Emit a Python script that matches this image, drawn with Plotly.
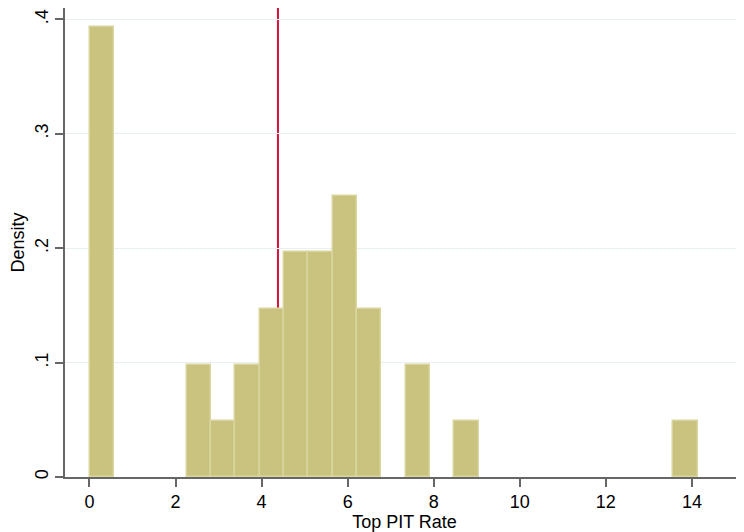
import plotly.graph_objects as go

bin_width = 0.5652
bin_centers = [0.283, 2.543, 3.108, 3.674, 4.239, 4.804, 5.369, 5.935, 6.500, 7.630, 8.761, 13.848]
density = [0.393, 0.098, 0.049, 0.098, 0.147, 0.197, 0.197, 0.246, 0.147, 0.098, 0.049, 0.049]
ref_line_x = 4.38

x_ticks = [0, 2, 4, 6, 8, 10, 12, 14]
y_ticks = [0, 0.1, 0.2, 0.3, 0.4]
y_tick_labels = ["0", ".1", ".2", ".3", ".4"]

font_family = "Liberation Sans, Arial, sans-serif"

fig = go.Figure()
fig.add_trace(go.Bar(
    x=bin_centers, y=density, width=[bin_width] * len(bin_centers),
    marker=dict(color="#c9c37f", line=dict(color="#d9d59e", width=1.5)),
    showlegend=False, hoverinfo="x+y",
))

fig.add_shape(type="line", xref="x", yref="paper", x0=ref_line_x, x1=ref_line_x, y0=0, y1=1,
              line=dict(color="#d2133c", width=2), layer="below")

fig.update_layout(
    width=736, height=524,
    margin=dict(l=57, r=0, t=0, b=55),
    paper_bgcolor="white", plot_bgcolor="white",
    font=dict(family=font_family, size=18, color="black"),
    bargap=0,
    xaxis=dict(
        range=[-0.569, 15.21], tickvals=x_ticks, ticktext=[str(v) for v in x_ticks],
        showgrid=False, zeroline=False, showline=True, linecolor="#666666", linewidth=1.5,
        ticks="outside", ticklen=8, tickcolor="#666666", tickwidth=1.5,
        tickfont=dict(size=18),
        title=dict(text="Top PIT Rate", font=dict(size=18), standoff=0),
    ),
    yaxis=dict(
        range=[0, 0.4099], tickvals=y_ticks, ticktext=y_tick_labels,
        showgrid=True, gridcolor="#e8f0f1", gridwidth=1, zeroline=False,
        showline=True, linecolor="#666666", linewidth=1.5,
        ticks="outside", ticklen=8, tickcolor="#666666", tickwidth=1.5,
        tickangle=-90, tickfont=dict(size=18),
        title=dict(text="Density", font=dict(size=18), standoff=4),
    ),
)

fig.write_html("out.html")
